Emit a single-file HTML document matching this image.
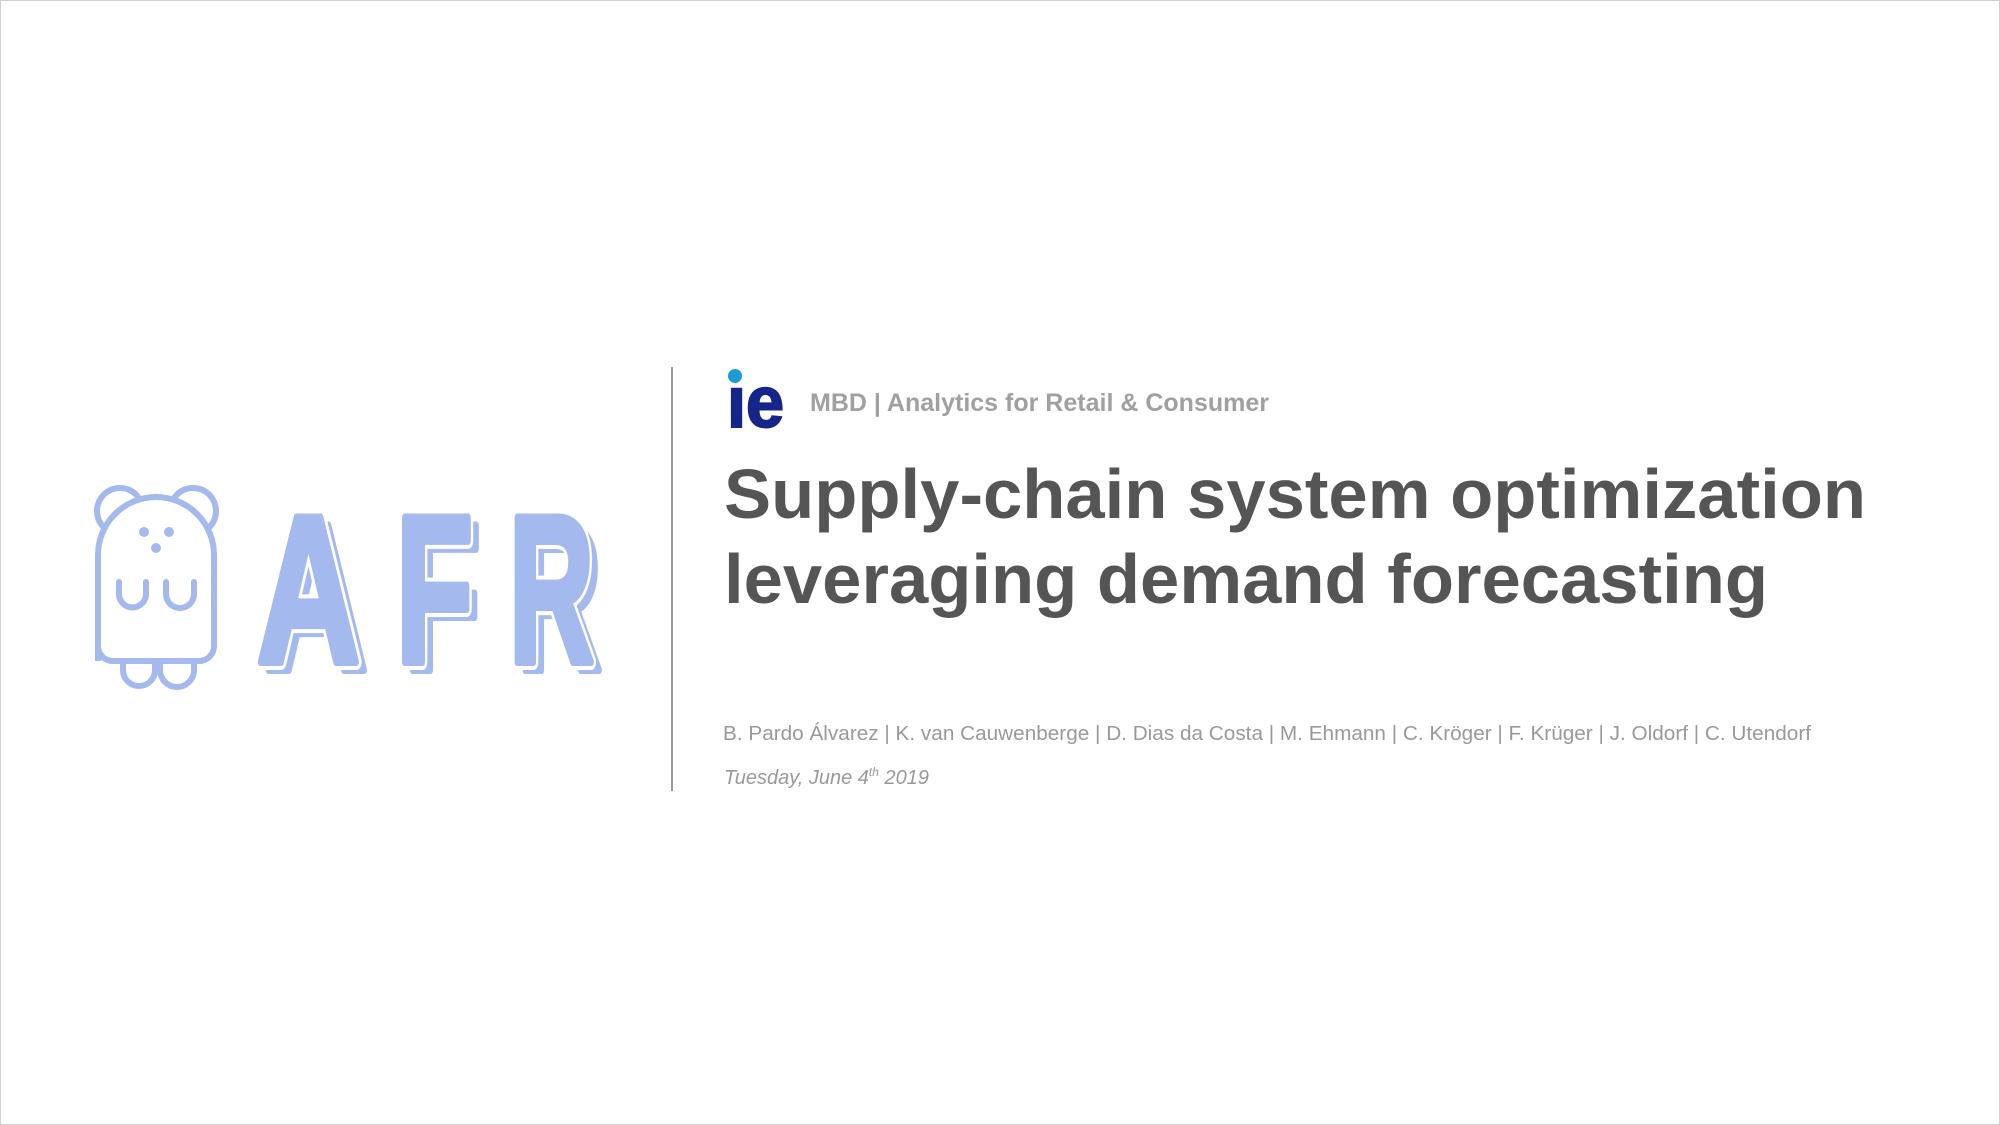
<!DOCTYPE html>
<html><head><meta charset="utf-8"><style>
html,body{margin:0;padding:0;background:#fff;}
svg{display:block;}
</style></head><body>
<svg width="2000" height="1125" viewBox="0 0 2000 1125" xmlns="http://www.w3.org/2000/svg">
<rect x="0.5" y="0.5" width="1999" height="1124" fill="#fff" stroke="#d0d0d0"/>
<!-- bear -->
<g fill="none" stroke="#a4b9ee" stroke-width="6" stroke-linecap="round">
  <circle cx="120" cy="511" r="23"/>
  <circle cx="193" cy="511" r="23"/>
  <path d="M98 661 L98 555 A58 58 0 0 1 214 555 L214 646 A15 15 0 0 1 199 661 L113 661 A15 15 0 0 1 98 646 Z" fill="#fff"/>
  <path d="M119 582 L119 594 A13.5 13.5 0 0 0 146 594 L146 582"/>
  <path d="M166 582 L166 594 A14 14 0 0 0 194 594 L194 582"/>
  <path d="M123 661 L123 670 A16 16 0 0 0 155 670 L155 661"/>
  <path d="M160 661 L160 670 A17 17 0 0 0 194 670 L194 661"/>
</g>
<g fill="#a4b9ee">
  <circle cx="144" cy="532" r="5"/><circle cx="169" cy="532" r="5"/><circle cx="156" cy="548" r="5"/>
</g>
<!-- AFR -->
<g font-family="Liberation Sans, sans-serif" font-weight="bold" font-size="210" stroke-linejoin="round">
  <g fill="#a4b9ee" stroke="#a4b9ee" stroke-width="8">
    <text x="265" y="670" textLength="103" lengthAdjust="spacingAndGlyphs">A</text>
    <text x="404" y="670" textLength="77" lengthAdjust="spacingAndGlyphs">F</text>
    <text x="517" y="670" textLength="85" lengthAdjust="spacingAndGlyphs">R</text>
  </g>
  <g fill="#fff" stroke="#fff" stroke-width="16">
    <text x="257" y="662" textLength="103" lengthAdjust="spacingAndGlyphs">A</text>
    <text x="396" y="662" textLength="77" lengthAdjust="spacingAndGlyphs">F</text>
    <text x="509" y="662" textLength="85" lengthAdjust="spacingAndGlyphs">R</text>
  </g>
  <g fill="#a4b9ee" stroke="#a4b9ee" stroke-width="8">
    <text x="257" y="662" textLength="103" lengthAdjust="spacingAndGlyphs">A</text>
    <text x="396" y="662" textLength="77" lengthAdjust="spacingAndGlyphs">F</text>
    <text x="509" y="662" textLength="85" lengthAdjust="spacingAndGlyphs">R</text>
  </g>
</g>
<!-- divider -->
<line x1="672" y1="367" x2="672" y2="791" stroke="#999" stroke-width="2"/>
<!-- ie logo -->
<circle cx="735" cy="376" r="7" fill="#1e9ad6"/>
<text x="727" y="427" font-family="Liberation Sans, sans-serif" font-weight="bold" font-size="72" fill="#16258a" stroke="#16258a" stroke-width="2" textLength="57" lengthAdjust="spacingAndGlyphs">ıe</text>
<g font-family="Liberation Sans, sans-serif">
<text x="810" y="411" font-weight="bold" font-size="25" fill="#a0a0a0" textLength="459" lengthAdjust="spacingAndGlyphs">MBD | Analytics for Retail &amp; Consumer</text>
<text x="724" y="518" font-weight="bold" font-size="70" fill="#555" textLength="1142" lengthAdjust="spacingAndGlyphs">Supply-chain system optimization</text>
<text x="724" y="603" font-weight="bold" font-size="70" fill="#555" textLength="1044" lengthAdjust="spacingAndGlyphs">leveraging demand forecasting</text>
<text x="723" y="740" font-size="20" fill="#999" textLength="1088" lengthAdjust="spacingAndGlyphs">B. Pardo Álvarez | K. van Cauwenberge | D. Dias da Costa | M. Ehmann | C. Kröger | F. Krüger | J. Oldorf | C. Utendorf</text>
<text x="724" y="784" font-size="20" font-style="italic" fill="#999">Tuesday, June 4<tspan font-size="12" dy="-8">th</tspan><tspan dy="8"> 2019</tspan></text>
</g>
</svg>
</body></html>
